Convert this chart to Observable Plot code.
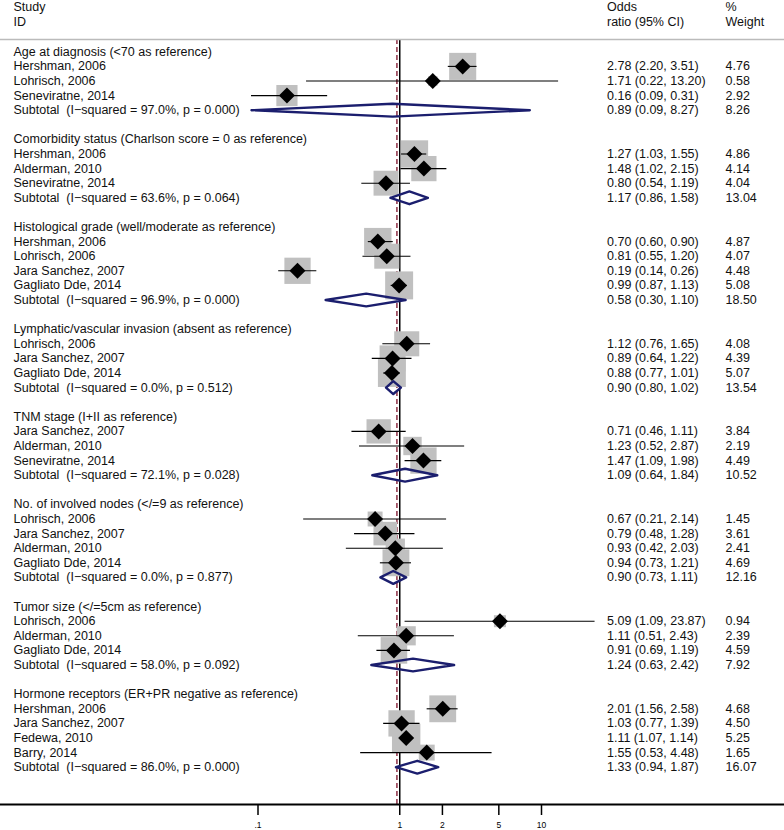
<!DOCTYPE html>
<html>
<head>
<meta charset="utf-8">
<script src="https://cdn.jsdelivr.net/npm/d3@7"></script>
<script src="https://cdn.jsdelivr.net/npm/@observablehq/plot@0.6"></script>
<style>
  html, body { margin: 0; padding: 0; background: #fff; }
</style>
</head>
<body>
<div id="chart"></div>
<script>
// ---- Data ----
const groupTitles = [
  "Age at diagnosis (<70 as reference)",
  "Comorbidity status (Charlson score = 0 as reference)",
  "Histological grade (well/moderate as reference)",
  "Lymphatic/vascular invasion (absent as reference)",
  "TNM stage (I+II as reference)",
  "No. of involved nodes (</=9 as reference)",
  "Tumor size (</=5cm as reference)",
  "Hormone receptors (ER+PR negative as reference)"
];

const studyGroup = [0,0,0, 1,1,1, 2,2,2,2, 3,3,3, 4,4,4, 5,5,5,5, 6,6,6, 7,7,7,7];
const studyName = [
  "Hershman, 2006", "Lohrisch, 2006", "Seneviratne, 2014",
  "Hershman, 2006", "Alderman, 2010", "Seneviratne, 2014",
  "Hershman, 2006", "Lohrisch, 2006", "Jara Sanchez, 2007", "Gagliato Dde, 2014",
  "Lohrisch, 2006", "Jara Sanchez, 2007", "Gagliato Dde, 2014",
  "Jara Sanchez, 2007", "Alderman, 2010", "Seneviratne, 2014",
  "Lohrisch, 2006", "Jara Sanchez, 2007", "Alderman, 2010", "Gagliato Dde, 2014",
  "Lohrisch, 2006", "Alderman, 2010", "Gagliato Dde, 2014",
  "Hershman, 2006", "Jara Sanchez, 2007", "Fedewa, 2010", "Barry, 2014"
];
const studyOR = [2.78, 1.71, 0.16, 1.27, 1.48, 0.80, 0.70, 0.81, 0.19, 0.99, 1.12, 0.89, 0.88,
  0.71, 1.23, 1.47, 0.67, 0.79, 0.93, 0.94, 5.09, 1.11, 0.91, 2.01, 1.03, 1.11, 1.55];
const studyLo = [2.20, 0.22, 0.09, 1.03, 1.02, 0.54, 0.60, 0.55, 0.14, 0.87, 0.76, 0.64, 0.77,
  0.46, 0.52, 1.09, 0.21, 0.48, 0.42, 0.73, 1.09, 0.51, 0.69, 1.56, 0.77, 1.07, 0.53];
const studyHi = [3.51, 13.20, 0.31, 1.55, 2.15, 1.19, 0.90, 1.20, 0.26, 1.13, 1.65, 1.22, 1.01,
  1.11, 2.87, 1.98, 2.14, 1.28, 2.03, 1.21, 23.87, 2.43, 1.19, 2.58, 1.39, 1.14, 4.48];
const studyWeight = [4.76, 0.58, 2.92, 4.86, 4.14, 4.04, 4.87, 4.07, 4.48, 5.08, 4.08, 4.39, 5.07,
  3.84, 2.19, 4.49, 1.45, 3.61, 2.41, 4.69, 0.94, 2.39, 4.59, 4.68, 4.50, 5.25, 1.65];

const subtotalI2 = ["97.0", "63.6", "96.9", "0.0", "72.1", "0.0", "58.0", "86.0"];
const subtotalP = ["0.000", "0.064", "0.000", "0.512", "0.028", "0.877", "0.092", "0.000"];
const subtotalOR = [0.89, 1.17, 0.58, 0.90, 1.09, 0.90, 1.24, 1.33];
const subtotalLo = [0.09, 0.86, 0.30, 0.80, 0.64, 0.73, 0.63, 0.94];
const subtotalHi = [8.27, 1.58, 1.10, 1.02, 1.84, 1.11, 2.42, 1.87];
const subtotalWeight = [8.26, 13.04, 18.50, 13.54, 10.52, 12.16, 7.92, 16.07];

const overallOR = 0.955;
const tickValues = [0.1, 1, 2, 5, 10];
const tickLabels = [".1", "1", "2", "5", "10"];

// ---- Build table rows ----
const f2 = v => v.toFixed(2);
const labelRows = [];
const studyRows = [];
const subRows = [];
let r = 0;
groupTitles.forEach((title, g) => {
  labelRows.push({row: r, label: title, orText: "", wText: ""});
  r++;
  studyGroup.forEach((sg, i) => {
    if (sg !== g) return;
    labelRows.push({row: r, label: studyName[i],
      orText: `${f2(studyOR[i])} (${f2(studyLo[i])}, ${f2(studyHi[i])})`,
      wText: f2(studyWeight[i])});
    studyRows.push({row: r, or: studyOR[i], lo: studyLo[i], hi: studyHi[i], w: studyWeight[i]});
    r++;
  });
  labelRows.push({row: r,
    label: `Subtotal\u00a0 (I\u2212squared = ${subtotalI2[g]}%, p = ${subtotalP[g]})`,
    orText: `${f2(subtotalOR[g])} (${f2(subtotalLo[g])}, ${f2(subtotalHi[g])})`,
    wText: f2(subtotalWeight[g])});
  subRows.push({row: r, or: subtotalOR[g], lo: subtotalLo[g], hi: subtotalHi[g], g});
  r++;
  r++; // blank row
});
const lastRow = r - 2;

const dh = 0.44;
const diamondPts = subRows.flatMap(s => [
  {g: s.g, x: s.lo, y: s.row},
  {g: s.g, x: s.or, y: s.row - dh},
  {g: s.g, x: s.hi, y: s.row},
  {g: s.g, x: s.or, y: s.row + dh},
  {g: s.g, x: s.lo, y: s.row}
]);

const FONT = "'Liberation Sans', Arial, sans-serif";
const FS = 12.5;
const maxW = d3.max(studyWeight);
const head = (t, dx, dy) => Plot.text([t], {frameAnchor: "top-left", dx, dy, textAnchor: "start", lineAnchor: "middle", fontSize: FS, fill: "#111"});

const chart = Plot.plot({
  width: 784,
  height: 830,
  marginLeft: 0,
  marginRight: 0,
  marginTop: 39,
  marginBottom: 26,
  style: {fontFamily: FONT, background: "#fff", color: "#000"},
  x: {type: "log", domain: [0.1, 10], range: [257.5, 541]},
  y: {type: "linear", domain: [0, lastRow], range: [51.3, 51.3 + lastRow * 14.6], axis: null},
  r: {type: "sqrt", domain: [0, maxW], range: [0, 7 * Math.sqrt(maxW)]},
  marks: [
    Plot.ruleX([overallOR], {stroke: "#8e2f45", strokeWidth: 1.5, strokeDasharray: "5,3"}),
    Plot.ruleX([1], {stroke: "#000", strokeWidth: 1.5}),
    Plot.dot(studyRows, {x: "or", y: "row", r: "w", symbol: "square", fill: "#c0c0c0", stroke: "none"}),
    Plot.ruleY(studyRows, {y: "row", x1: "lo", x2: "hi", stroke: "#000", strokeWidth: 1.1}),
    Plot.dot(studyRows, {x: "or", y: "row", r: 7.2, symbol: "diamond2", fill: "#000", stroke: "none"}),
    Plot.line(diamondPts, {x: "x", y: "y", z: "g", stroke: "#1b1e6e", strokeWidth: 2.4, curve: "linear"}),
    Plot.text(labelRows, {y: "row", text: "label", frameAnchor: "left", dx: 13, textAnchor: "start", fontSize: FS, fill: "#111"}),
    Plot.text(labelRows, {y: "row", text: "orText", frameAnchor: "left", dx: 606.5, textAnchor: "start", fontSize: FS, fill: "#111"}),
    Plot.text(labelRows, {y: "row", text: "wText", frameAnchor: "left", dx: 725, textAnchor: "start", fontSize: FS, fill: "#111"}),
    head("Study", 13, -33),
    head("ID", 13, -18),
    head("Odds", 606.5, -33),
    head("ratio (95% CI)", 606.5, -18),
    head("%", 725, -33),
    head("Weight", 725, -18),
    Plot.frame({anchor: "top", stroke: "#bbbbbb", strokeWidth: 1.5}),
    Plot.frame({anchor: "bottom", stroke: "#000", strokeWidth: 2}),
    Plot.axisX({
      ticks: tickValues,
      tickFormat: d => tickLabels[tickValues.indexOf(d)],
      tickSize: 11,
      tickPadding: 6,
      strokeWidth: 1.5,
      fontSize: 8.5,
      label: null
    })
  ]
});
document.getElementById("chart").appendChild(chart);
</script>
</body>
</html>
